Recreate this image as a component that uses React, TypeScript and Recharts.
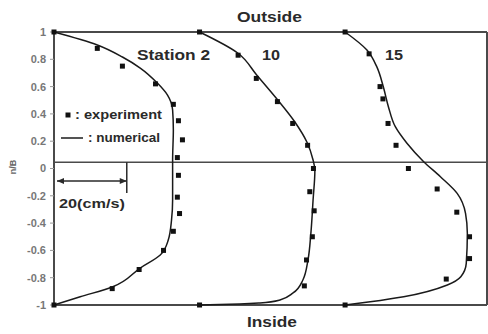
import React from 'react';
import { ComposedChart, Line, Scatter, XAxis, YAxis, ReferenceLine } from 'recharts';

const WIDTH = 488;
const HEIGHT = 334;
const X_MAX = 119;
const Y_TICKS = [1, 0.8, 0.6, 0.4, 0.2, 0, -0.2, -0.4, -0.6, -0.8, -1];

// each station profile is shifted right by its offset (cm/s)
const stationOffsets = [0, 40, 80];

// measured velocities (cm/s) vs n/B
const exp2N = [1, 0.88, 0.75, 0.62, 0.47, 0.35, 0.21, 0.08, -0.05, -0.21, -0.33, -0.46, -0.6, -0.74, -0.88, -1];
const exp2U = [0, 11.9, 18.8, 27.9, 32.8, 34.2, 35.3, 33.9, 34.2, 33.9, 34.5, 32.8, 30.1, 23.4, 16.0, 0];

const exp10N = [1, 0.83, 0.66, 0.49, 0.33, 0.17, 0.0, -0.17, -0.31, -0.5, -0.67, -0.86, -1];
const exp10U = [0, 10.6, 15.6, 21.4, 25.6, 29.7, 31.3, 30.3, 31.5, 31.0, 29.4, 28.8, 0];

const exp15N = [1, 0.84, 0.6, 0.51, 0.33, 0.17, 0.0, -0.15, -0.32, -0.5, -0.66, -0.81, -1];
const exp15U = [0, 6.6, 9.6, 10.4, 11.8, 14.0, 17.4, 25.3, 30.7, 34.2, 34.2, 27.8, 0];

// computed profiles
const num2N = [1, 0.905, 0.817, 0.736, 0.626, 0.538, 0.429, 0.282, 0.062, -0.231, -0.377, -0.524, -0.634, -0.729, -0.868, -0.94, -1];
const num2U = [0, 11.9, 18.8, 23.7, 28.4, 31.2, 32.6, 32.8, 32.6, 32.6, 32.3, 31.4, 29.2, 23.7, 16.0, 7.2, 0];

const num10N = [1, 0.846, 0.685, 0.502, 0.341, 0.194, 0.062, -0.011, -0.231, -0.473, -0.67, -0.817, -0.912, -0.963, -0.985, -0.993, -1];
const num10U = [0, 10.5, 15.7, 21.5, 26.2, 29.5, 31.2, 31.7, 31.2, 30.6, 29.8, 28.4, 25.7, 22.1, 16.6, 11.0, 0];

const num15N = [1, 0.868, 0.746, 0.599, 0.453, 0.306, 0.185, 0.05, -0.06, -0.182, -0.328, -0.475, -0.695, -0.793, -0.853, -0.939, -0.976, -1];
const num15U = [0, 6.0, 8.7, 10.5, 11.9, 13.8, 17.0, 21.6, 26.2, 30.8, 33.1, 33.6, 33.3, 31.8, 28.1, 16.1, 6.9, 0];

const SCALE_BAR = 20; // cm/s
const CENTER_LINE = 0.045;

const toPoints = (offset: number, us: number[], ns: number[]) =>
  us.map((u, i) => ({ x: offset + u, y: ns[i] }));

const expSeries = [
  toPoints(stationOffsets[0], exp2U, exp2N),
  toPoints(stationOffsets[1], exp10U, exp10N),
  toPoints(stationOffsets[2], exp15U, exp15N),
];
const numSeries = [
  toPoints(stationOffsets[0], num2U, num2N),
  toPoints(stationOffsets[1], num10U, num10N),
  toPoints(stationOffsets[2], num15U, num15N),
];

const INK = '#2a2a2a';
const FRAME = '#4a4a4a';
const FONT = '"Liberation Sans", Arial, sans-serif';

const SquareDot = (props: any) => {
  const { cx, cy } = props;
  if (cx == null || cy == null) return null;
  return <rect x={cx - 2.5} y={cy - 2.5} width={5} height={5} fill="#111" />;
};

// horizontal scale bar with arrowheads on both ends
const ArrowBar = (props: any) => {
  const { x1, y1, x2 } = props;
  if (x1 == null) return null;
  const a = Math.min(x1, x2) + 3;
  const b = Math.max(x1, x2);
  const y = y1;
  return (
    <g>
      <line x1={a} y1={y} x2={b} y2={y} stroke={INK} strokeWidth={1.6} />
      <path d={`M${a},${y} l7,-3 v6 z`} fill={INK} />
      <path d={`M${b},${y} l-7,-3 v6 z`} fill={INK} />
    </g>
  );
};

export default function App() {
  return (
    <div style={{ position: 'absolute', left: 0, top: 0, width: WIDTH, height: HEIGHT, background: '#fff' }}>
      <ComposedChart
        width={WIDTH}
        height={HEIGHT}
        margin={{ top: 32, right: 1, bottom: 29, left: 0 }}
      >
        <XAxis dataKey="x" type="number" domain={[0, X_MAX]} hide />
        <YAxis
          dataKey="y"
          type="number"
          domain={[-1, 1]}
          ticks={Y_TICKS}
          width={54}
          tickSize={4}
          tickMargin={4}
          interval={0}
          axisLine={{ stroke: FRAME, strokeWidth: 2 }}
          tickLine={{ stroke: '#999' }}
          tick={{ fontSize: 11, fill: '#777', fontFamily: FONT, fontWeight: 700 }}
        />
        <ReferenceLine y={1} stroke={FRAME} strokeWidth={2} />
        <ReferenceLine y={-1} stroke={FRAME} strokeWidth={2} />
        <ReferenceLine x={X_MAX} stroke={FRAME} strokeWidth={2} />
        <ReferenceLine y={CENTER_LINE} stroke={FRAME} strokeWidth={1.5} />
        <ReferenceLine
          segment={[{ x: 0, y: -0.092 }, { x: SCALE_BAR, y: -0.092 }]}
          shape={ArrowBar}
        />
        <ReferenceLine
          segment={[{ x: SCALE_BAR, y: CENTER_LINE }, { x: SCALE_BAR, y: -0.18 }]}
          stroke={INK}
          strokeWidth={1.5}
        />
        {numSeries.map((d, i) => (
          <Line
            key={`num-${i}`}
            data={d}
            dataKey="y"
            type="monotoneY"
            stroke="#1a1a1a"
            strokeWidth={1.5}
            dot={false}
            activeDot={false}
            isAnimationActive={false}
          />
        ))}
        {expSeries.map((d, i) => (
          <Scatter
            key={`exp-${i}`}
            data={d}
            dataKey="y"
            shape={SquareDot}
            isAnimationActive={false}
          />
        ))}
      </ComposedChart>
      <svg
        width={WIDTH}
        height={HEIGHT}
        style={{ position: 'absolute', left: 0, top: 0, pointerEvents: 'none' }}
        fontFamily={FONT}
        fontWeight={700}
        fill={INK}
      >
        <text x={237} y={22} fontSize={15} textLength={65} lengthAdjust="spacingAndGlyphs">Outside</text>
        <text x={247} y={327} fontSize={15} textLength={50} lengthAdjust="spacingAndGlyphs">Inside</text>
        <text x={137} y={60} fontSize={15} textLength={73} lengthAdjust="spacingAndGlyphs">Station 2</text>
        <text x={262} y={60} fontSize={15} textLength={18} lengthAdjust="spacingAndGlyphs">10</text>
        <text x={385} y={60} fontSize={15} textLength={18} lengthAdjust="spacingAndGlyphs">15</text>
        <text x={59} y={208} fontSize={13} textLength={66} lengthAdjust="spacingAndGlyphs">20(cm/s)</text>

        <rect x={65.5} y={112.5} width={5} height={5} fill="#111" />
        <text x={75} y={119} fontSize={12} textLength={87} lengthAdjust="spacingAndGlyphs">: experiment</text>
        <line x1={61} y1={138} x2={83} y2={138} stroke={INK} strokeWidth={1.6} />
        <text x={88} y={142} fontSize={12} textLength={72} lengthAdjust="spacingAndGlyphs">: numerical</text>

        <text
          x={0}
          y={0}
          fontSize={9}
          fill="#666"
          textAnchor="middle"
          transform="translate(16 167) rotate(-90)"
        >
          n/B
        </text>
      </svg>
    </div>
  );
}
